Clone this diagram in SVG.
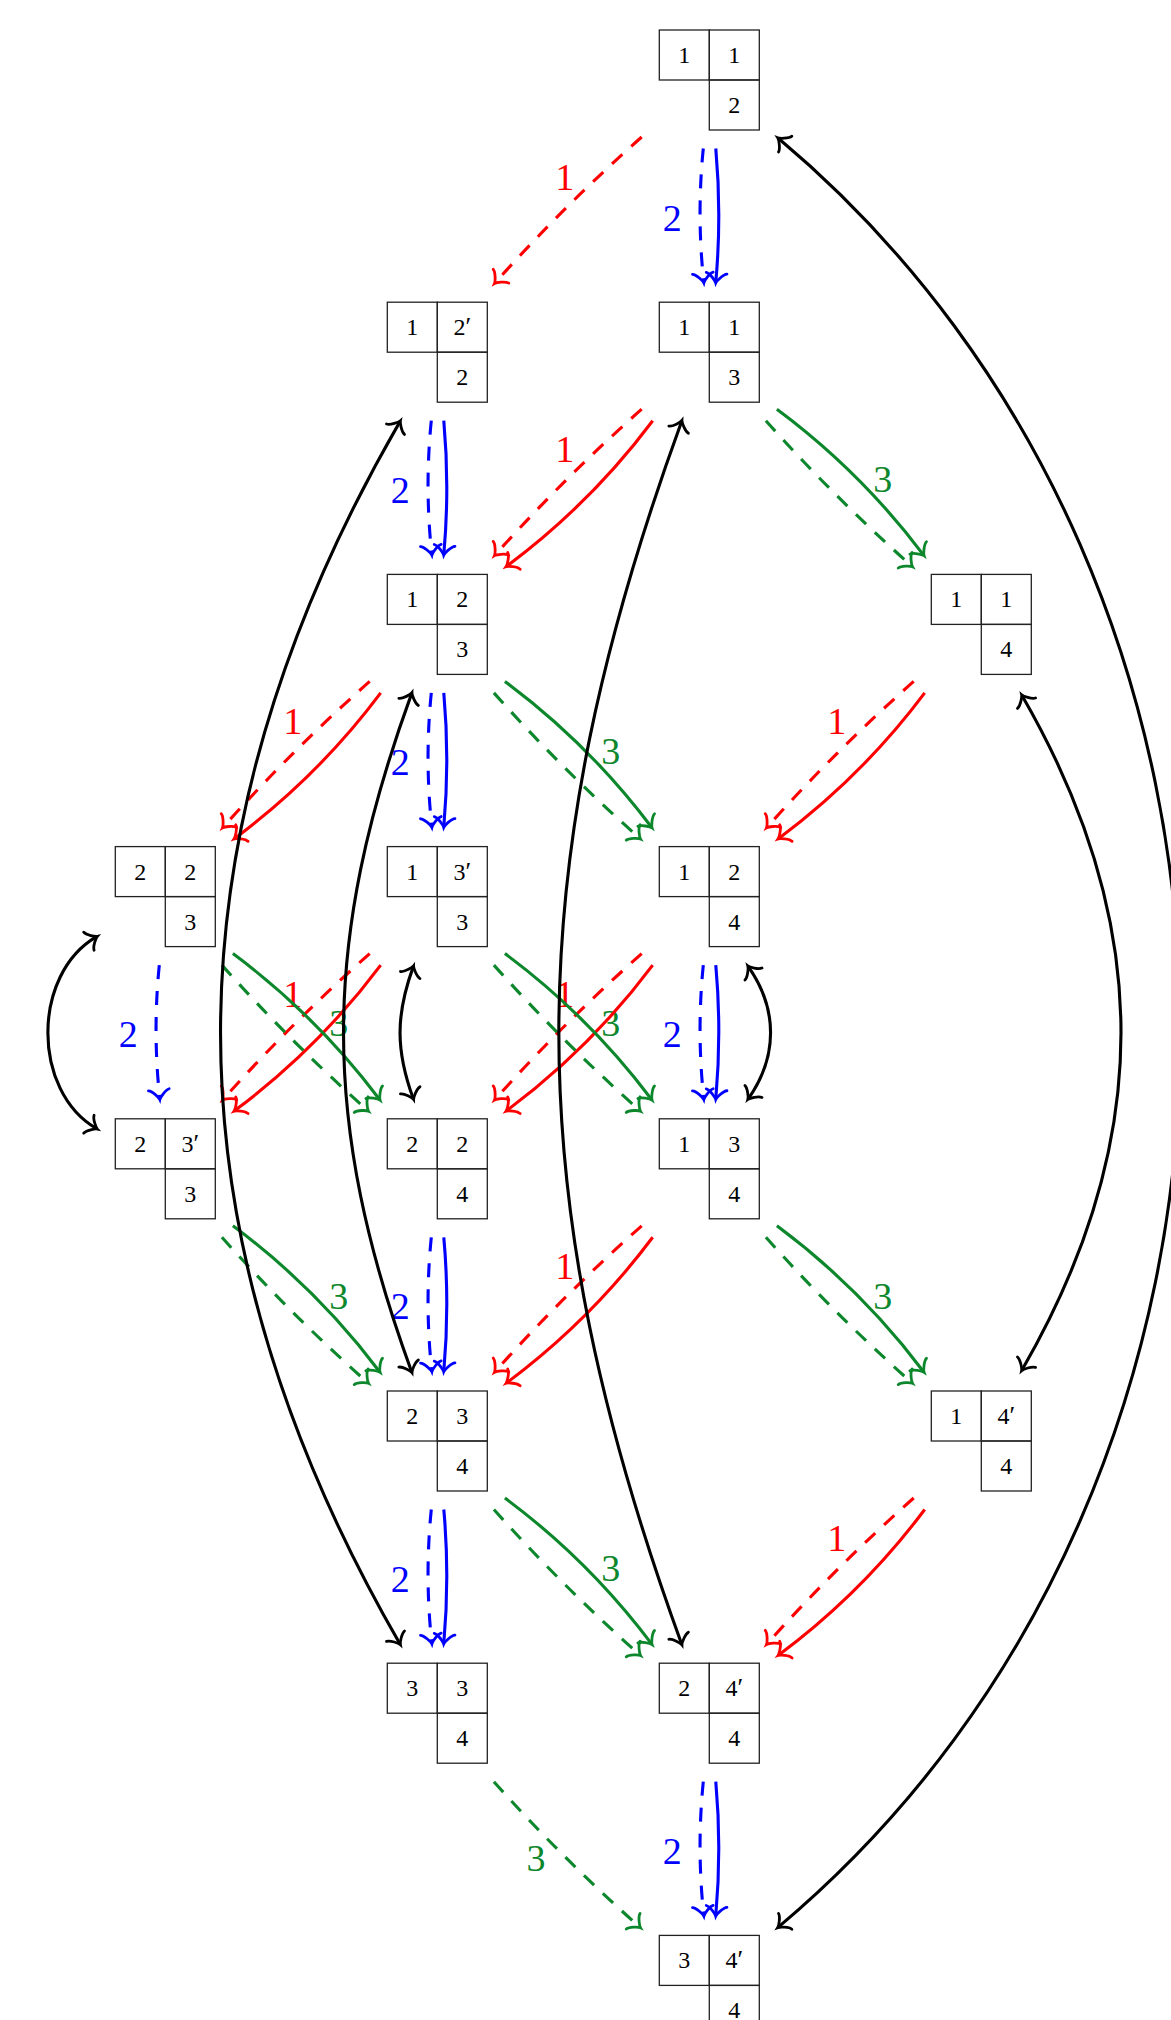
<svg xmlns="http://www.w3.org/2000/svg" width="1171" height="2020" viewBox="0 0 1171 2020">
<style>
.cell{fill:none;stroke:#222;stroke-width:1.3}
.d{font-family:"Liberation Serif","DejaVu Serif",serif;font-size:24px;text-anchor:middle;fill:#000}
.p{font-size:26px}
.lab{font-family:"Liberation Serif","DejaVu Serif",serif;font-size:38px;text-anchor:middle}
.e{fill:none;stroke-width:3.1}
.dash{stroke-dasharray:14 12}
.r{stroke:#ff0000}.b{stroke:#0000ff}.g{stroke:#0d872c}.k{stroke:#000}
.lr{fill:#ff0000}.lb{fill:#0000ff}.lg{fill:#0d872c}
.er{marker-end:url(#mr)}.eb{marker-end:url(#mb)}.eg{marker-end:url(#mg)}.ek{marker-start:url(#mk);marker-end:url(#mk)}
</style>
<defs>
<marker id="mr" viewBox="-10 -12 13 24" refX="1.2" refY="0" markerWidth="13" markerHeight="24" markerUnits="userSpaceOnUse" orient="auto" overflow="visible"><path d="M-7.8,-10.4 C-7.15,-6.5 0,-0.65 1.95,0 C0,0.65 -7.15,6.5 -7.8,10.4" fill="none" stroke="#ff0000" stroke-width="2.8" stroke-linecap="round"/></marker>
<marker id="mb" viewBox="-10 -12 13 24" refX="1.2" refY="0" markerWidth="13" markerHeight="24" markerUnits="userSpaceOnUse" orient="auto" overflow="visible"><path d="M-7.8,-10.4 C-7.15,-6.5 0,-0.65 1.95,0 C0,0.65 -7.15,6.5 -7.8,10.4" fill="none" stroke="#0000ff" stroke-width="2.8" stroke-linecap="round"/></marker>
<marker id="mg" viewBox="-10 -12 13 24" refX="1.2" refY="0" markerWidth="13" markerHeight="24" markerUnits="userSpaceOnUse" orient="auto" overflow="visible"><path d="M-7.8,-10.4 C-7.15,-6.5 0,-0.65 1.95,0 C0,0.65 -7.15,6.5 -7.8,10.4" fill="none" stroke="#0d872c" stroke-width="2.8" stroke-linecap="round"/></marker>
<marker id="mk" viewBox="-10 -12 13 24" refX="1.2" refY="0" markerWidth="13" markerHeight="24" markerUnits="userSpaceOnUse" orient="auto-start-reverse" overflow="visible"><path d="M-7.8,-10.4 C-7.15,-6.5 0,-0.65 1.95,0 C0,0.65 -7.15,6.5 -7.8,10.4" fill="none" stroke="#000" stroke-width="2.8" stroke-linecap="round"/></marker>
</defs>
<rect width="1171" height="2020" fill="#fff"/>
<g id="nodes">
<g id="n20" transform="translate(659.3,30)"><rect class="cell" x="0" y="0" width="50" height="50"/><rect class="cell" x="50" y="0" width="50" height="50"/><rect class="cell" x="50" y="50" width="50" height="50"/><text class="d" x="25" y="33">1</text><text class="d" x="75" y="33">1</text><text class="d" x="75" y="83">2</text></g>
<g id="n11" transform="translate(387.3,302.2)"><rect class="cell" x="0" y="0" width="50" height="50"/><rect class="cell" x="50" y="0" width="50" height="50"/><rect class="cell" x="50" y="50" width="50" height="50"/><text class="d" x="25" y="33">1</text><text class="d" x="75" y="33">2<tspan class="p">′</tspan></text><text class="d" x="75" y="83">2</text></g>
<g id="n21" transform="translate(659.3,302.2)"><rect class="cell" x="0" y="0" width="50" height="50"/><rect class="cell" x="50" y="0" width="50" height="50"/><rect class="cell" x="50" y="50" width="50" height="50"/><text class="d" x="25" y="33">1</text><text class="d" x="75" y="33">1</text><text class="d" x="75" y="83">3</text></g>
<g id="n12" transform="translate(387.3,574.4)"><rect class="cell" x="0" y="0" width="50" height="50"/><rect class="cell" x="50" y="0" width="50" height="50"/><rect class="cell" x="50" y="50" width="50" height="50"/><text class="d" x="25" y="33">1</text><text class="d" x="75" y="33">2</text><text class="d" x="75" y="83">3</text></g>
<g id="n32" transform="translate(931.3,574.4)"><rect class="cell" x="0" y="0" width="50" height="50"/><rect class="cell" x="50" y="0" width="50" height="50"/><rect class="cell" x="50" y="50" width="50" height="50"/><text class="d" x="25" y="33">1</text><text class="d" x="75" y="33">1</text><text class="d" x="75" y="83">4</text></g>
<g id="n03" transform="translate(115.3,846.6)"><rect class="cell" x="0" y="0" width="50" height="50"/><rect class="cell" x="50" y="0" width="50" height="50"/><rect class="cell" x="50" y="50" width="50" height="50"/><text class="d" x="25" y="33">2</text><text class="d" x="75" y="33">2</text><text class="d" x="75" y="83">3</text></g>
<g id="n13" transform="translate(387.3,846.6)"><rect class="cell" x="0" y="0" width="50" height="50"/><rect class="cell" x="50" y="0" width="50" height="50"/><rect class="cell" x="50" y="50" width="50" height="50"/><text class="d" x="25" y="33">1</text><text class="d" x="75" y="33">3<tspan class="p">′</tspan></text><text class="d" x="75" y="83">3</text></g>
<g id="n23" transform="translate(659.3,846.6)"><rect class="cell" x="0" y="0" width="50" height="50"/><rect class="cell" x="50" y="0" width="50" height="50"/><rect class="cell" x="50" y="50" width="50" height="50"/><text class="d" x="25" y="33">1</text><text class="d" x="75" y="33">2</text><text class="d" x="75" y="83">4</text></g>
<g id="n04" transform="translate(115.3,1118.8)"><rect class="cell" x="0" y="0" width="50" height="50"/><rect class="cell" x="50" y="0" width="50" height="50"/><rect class="cell" x="50" y="50" width="50" height="50"/><text class="d" x="25" y="33">2</text><text class="d" x="75" y="33">3<tspan class="p">′</tspan></text><text class="d" x="75" y="83">3</text></g>
<g id="n14" transform="translate(387.3,1118.8)"><rect class="cell" x="0" y="0" width="50" height="50"/><rect class="cell" x="50" y="0" width="50" height="50"/><rect class="cell" x="50" y="50" width="50" height="50"/><text class="d" x="25" y="33">2</text><text class="d" x="75" y="33">2</text><text class="d" x="75" y="83">4</text></g>
<g id="n24" transform="translate(659.3,1118.8)"><rect class="cell" x="0" y="0" width="50" height="50"/><rect class="cell" x="50" y="0" width="50" height="50"/><rect class="cell" x="50" y="50" width="50" height="50"/><text class="d" x="25" y="33">1</text><text class="d" x="75" y="33">3</text><text class="d" x="75" y="83">4</text></g>
<g id="n15" transform="translate(387.3,1391)"><rect class="cell" x="0" y="0" width="50" height="50"/><rect class="cell" x="50" y="0" width="50" height="50"/><rect class="cell" x="50" y="50" width="50" height="50"/><text class="d" x="25" y="33">2</text><text class="d" x="75" y="33">3</text><text class="d" x="75" y="83">4</text></g>
<g id="n35" transform="translate(931.3,1391)"><rect class="cell" x="0" y="0" width="50" height="50"/><rect class="cell" x="50" y="0" width="50" height="50"/><rect class="cell" x="50" y="50" width="50" height="50"/><text class="d" x="25" y="33">1</text><text class="d" x="75" y="33">4<tspan class="p">′</tspan></text><text class="d" x="75" y="83">4</text></g>
<g id="n16" transform="translate(387.3,1663.2)"><rect class="cell" x="0" y="0" width="50" height="50"/><rect class="cell" x="50" y="0" width="50" height="50"/><rect class="cell" x="50" y="50" width="50" height="50"/><text class="d" x="25" y="33">3</text><text class="d" x="75" y="33">3</text><text class="d" x="75" y="83">4</text></g>
<g id="n26" transform="translate(659.3,1663.2)"><rect class="cell" x="0" y="0" width="50" height="50"/><rect class="cell" x="50" y="0" width="50" height="50"/><rect class="cell" x="50" y="50" width="50" height="50"/><text class="d" x="25" y="33">2</text><text class="d" x="75" y="33">4<tspan class="p">′</tspan></text><text class="d" x="75" y="83">4</text></g>
<g id="n27" transform="translate(659.3,1935.4)"><rect class="cell" x="0" y="0" width="50" height="50"/><rect class="cell" x="50" y="0" width="50" height="50"/><rect class="cell" x="50" y="50" width="50" height="50"/><text class="d" x="25" y="33">3</text><text class="d" x="75" y="33">4<tspan class="p">′</tspan></text><text class="d" x="75" y="83">4</text></g>
</g>
<g id="connectors">
<g id="labels">
<text class="lab lr" x="564.8" y="190">1</text>
<text class="lab lr" x="564.8" y="462.2">1</text>
<text class="lab lr" x="292.8" y="734.4">1</text>
<text class="lab lr" x="836.8" y="734.4">1</text>
<text class="lab lr" x="292.8" y="1006.6">1</text>
<text class="lab lr" x="564.8" y="1006.6">1</text>
<text class="lab lr" x="564.8" y="1278.8">1</text>
<text class="lab lr" x="836.8" y="1551">1</text>
<text class="lab lb" x="672.3" y="230.5">2</text>
<text class="lab lb" x="400.3" y="502.7">2</text>
<text class="lab lb" x="400.3" y="774.9">2</text>
<text class="lab lb" x="128.3" y="1047.1">2</text>
<text class="lab lb" x="672.3" y="1047.1">2</text>
<text class="lab lb" x="400.3" y="1319.3">2</text>
<text class="lab lb" x="400.3" y="1591.5">2</text>
<text class="lab lb" x="672.3" y="1863.7">2</text>
<text class="lab lg" x="882.8" y="491.9">3</text>
<text class="lab lg" x="610.8" y="764.1">3</text>
<text class="lab lg" x="338.8" y="1036.3">3</text>
<text class="lab lg" x="610.8" y="1036.3">3</text>
<text class="lab lg" x="338.8" y="1308.5">3</text>
<text class="lab lg" x="882.8" y="1308.5">3</text>
<text class="lab lg" x="610.8" y="1580.7">3</text>
<text class="lab lg" x="536" y="1871.2">3</text>
</g>
<g id="red-edges">
<path class="e r dash er" d="M641.7,137 Q564.1,205.7 495,282.9"/>
<path class="e r dash er" d="M641.7,409.2 Q564.1,477.9 495,555.1"/>
<path class="e r er" d="M652.7,420.7 Q590.3,504.05 506.7,566.2"/>
<path class="e r dash er" d="M369.7,681.4 Q292.1,750.1 223,827.3"/>
<path class="e r er" d="M380.7,692.9 Q318.3,776.25 234.7,838.4"/>
<path class="e r dash er" d="M913.7,681.4 Q836.1,750.1 767,827.3"/>
<path class="e r er" d="M924.7,692.9 Q862.3,776.25 778.7,838.4"/>
<path class="e r dash er" d="M369.7,953.6 Q292.1,1022.3 223,1099.5"/>
<path class="e r er" d="M380.7,965.1 Q318.3,1048.45 234.7,1110.6"/>
<path class="e r dash er" d="M641.7,953.6 Q564.1,1022.3 495,1099.5"/>
<path class="e r er" d="M652.7,965.1 Q590.3,1048.45 506.7,1110.6"/>
<path class="e r dash er" d="M641.7,1225.8 Q564.1,1294.5 495,1371.7"/>
<path class="e r er" d="M652.7,1237.3 Q590.3,1320.65 506.7,1382.8"/>
<path class="e r dash er" d="M913.7,1498 Q836.1,1566.7 767,1643.9"/>
<path class="e r er" d="M924.7,1509.5 Q862.3,1592.85 778.7,1655"/>
</g>
<g id="blue-edges">
<path class="e b dash eb" d="M703.3,148.5 Q696.55,215.35 703.8,282.2"/>
<path class="e b eb" d="M715.8,148.5 Q721.8,215.35 715.8,282.2"/>
<path class="e b dash eb" d="M431.3,420.7 Q424.55,487.55 431.8,554.4"/>
<path class="e b eb" d="M443.8,420.7 Q449.8,487.55 443.8,554.4"/>
<path class="e b dash eb" d="M431.3,692.9 Q424.55,759.75 431.8,826.6"/>
<path class="e b eb" d="M443.8,692.9 Q449.8,759.75 443.8,826.6"/>
<path class="e b dash eb" d="M159.3,965.1 Q152.55,1031.95 159.8,1098.8"/>
<path class="e b dash eb" d="M703.3,965.1 Q696.55,1031.95 703.8,1098.8"/>
<path class="e b eb" d="M715.8,965.1 Q721.8,1031.95 715.8,1098.8"/>
<path class="e b dash eb" d="M431.3,1237.3 Q424.55,1304.15 431.8,1371"/>
<path class="e b eb" d="M443.8,1237.3 Q449.8,1304.15 443.8,1371"/>
<path class="e b dash eb" d="M431.3,1509.5 Q424.55,1576.35 431.8,1643.2"/>
<path class="e b eb" d="M443.8,1509.5 Q449.8,1576.35 443.8,1643.2"/>
<path class="e b dash eb" d="M703.3,1781.7 Q696.55,1848.55 703.8,1915.4"/>
<path class="e b eb" d="M715.8,1781.7 Q721.8,1848.55 715.8,1915.4"/>
</g>
<g id="green-edges">
<path class="e g eg" d="M776.9,409.2 Q860.85,471.55 923.6,555.1"/>
<path class="e g dash eg" d="M765.9,420.7 Q834.66,497.7 911.9,566.2"/>
<path class="e g eg" d="M504.9,681.4 Q588.85,743.75 651.6,827.3"/>
<path class="e g dash eg" d="M493.9,692.9 Q562.66,769.9 639.9,838.4"/>
<path class="e g eg" d="M232.9,953.6 Q316.85,1015.95 379.6,1099.5"/>
<path class="e g dash eg" d="M221.9,965.1 Q290.66,1042.1 367.9,1110.6"/>
<path class="e g eg" d="M504.9,953.6 Q588.85,1015.95 651.6,1099.5"/>
<path class="e g dash eg" d="M493.9,965.1 Q562.66,1042.1 639.9,1110.6"/>
<path class="e g eg" d="M232.9,1225.8 Q316.85,1288.15 379.6,1371.7"/>
<path class="e g dash eg" d="M221.9,1237.3 Q290.66,1314.3 367.9,1382.8"/>
<path class="e g eg" d="M776.9,1225.8 Q860.85,1288.15 923.6,1371.7"/>
<path class="e g dash eg" d="M765.9,1237.3 Q834.66,1314.3 911.9,1382.8"/>
<path class="e g eg" d="M504.9,1498 Q588.85,1560.35 651.6,1643.9"/>
<path class="e g dash eg" d="M493.9,1509.5 Q562.66,1586.5 639.9,1655"/>
<path class="e g dash eg" d="M493.9,1781.7 Q562.66,1858.7 639.9,1927.2"/>
</g>
<g id="black-arcs">
<path class="e k ek" d="M778.3,138.3 C1314.7,588.6 1314.7,1476.8 778.3,1927.1"/>
<path class="e k ek" d="M400,421.4 C160.7,835.9 160.7,1229.5 400,1644"/>
<path class="e k ek" d="M681.7,421.2 C517.9,871.2 517.9,1194.2 681.7,1644.2"/>
<path class="e k ek" d="M411.7,693.4 C320.8,943.1 320.8,1122.3 411.7,1372"/>
<path class="e k ek" d="M1022,695.4 C1154,924.1 1154,1141.3 1022,1370"/>
<path class="e k ek" d="M96.7,936.7 C31.6,974.3 31.6,1091.1 96.7,1128.7"/>
<path class="e k ek" d="M413.3,966.6 C395.6,1015.3 395.6,1050.1 413.3,1098.8"/>
<path class="e k ek" d="M748.3,966.6 C778,1009 778,1056.4 748.3,1098.8"/>
</g>
</g>
</svg>
